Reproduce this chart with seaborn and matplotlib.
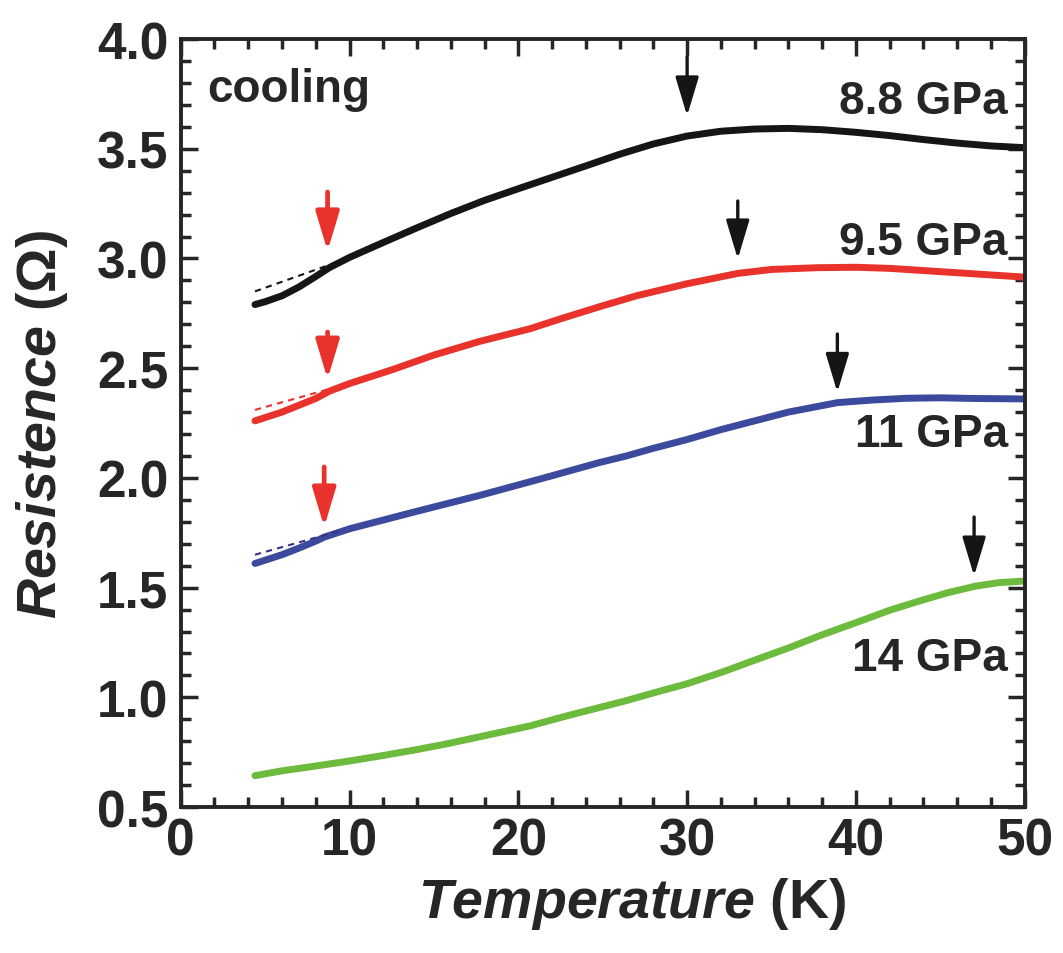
import numpy as np
import pandas as pd
import matplotlib
matplotlib.use("Agg")
import matplotlib.pyplot as plt
import seaborn as sns
from matplotlib.ticker import MultipleLocator

# data (T in K, R in Ohm)
t_88 = [4.4, 5, 6, 7, 8, 8.8, 10, 12, 14, 16, 18, 20, 22, 24, 26, 28, 30, 32, 34, 36, 38, 40, 42, 44, 46, 48, 50]
r_88 = [2.79, 2.803, 2.83, 2.87, 2.918, 2.958, 3.005, 3.073, 3.14, 3.205, 3.265, 3.318, 3.37, 3.422, 3.475, 3.522,
        3.558, 3.58, 3.59, 3.593, 3.587, 3.575, 3.56, 3.542, 3.526, 3.513, 3.505]
t_95 = [4.4, 6, 8, 8.8, 10, 12.6, 15, 17.7, 20.7, 22.5, 24.8, 27, 30, 33, 35, 37.7, 40, 42, 44, 46, 48, 50]
r_95 = [2.26, 2.30, 2.362, 2.395, 2.43, 2.495, 2.56, 2.622, 2.68, 2.725, 2.78, 2.83, 2.885, 2.932, 2.95, 2.958,
        2.96, 2.955, 2.945, 2.935, 2.925, 2.915]
t_11 = [4.4, 6, 7, 8, 8.5, 10, 12, 14, 17.7, 20, 22, 24.8, 26.4, 28, 30, 32, 34, 36, 38.9, 41, 43, 45, 47, 50]
r_11 = [1.61, 1.65, 1.68, 1.712, 1.73, 1.768, 1.808, 1.848, 1.92, 1.968, 2.01, 2.07, 2.10, 2.135, 2.175, 2.22,
        2.26, 2.30, 2.343, 2.355, 2.363, 2.365, 2.362, 2.36]
t_14 = [4.4, 6, 8, 10, 12, 14, 15.7, 18, 20.7, 23, 26.4, 28, 30, 32, 34.1, 36, 38, 40.6, 42, 43.8, 45.5, 47.1, 48.5, 50]
r_14 = [0.643, 0.665, 0.687, 0.71, 0.735, 0.762, 0.787, 0.825, 0.87, 0.918, 0.985, 1.02, 1.062, 1.113, 1.172,
        1.225, 1.285, 1.357, 1.397, 1.44, 1.478, 1.507, 1.523, 1.53]

# dashed linear extrapolations at low T
fit_t = [4.4, 9.5]
fit_88 = [2.85, 2.99]
fit_95 = [2.31, 2.42]
fit_11 = [1.65, 1.76]

labels = ["8.8 GPa", "9.5 GPa", "11 GPa", "14 GPa"]
label_pos = [3.72, 3.075, 2.2, 1.18]
colors = ["#151515", "#e8322b", "#3b4a9c", "#6cbb3c"]
fit_colors = ["#151515", "#e8322b", "#3a2d8c"]

# onset arrows: (T, tail R, tip R, color)
arrows_T = [30.0, 33.0, 38.9, 47.0, 8.7, 8.7, 8.5]
arrows_tail = [3.918, 3.262, 2.656, 1.822, 3.303, 2.665, 2.05]
arrows_tip = [3.65, 2.998, 2.39, 1.553, 3.034, 2.45, 1.776]
arrows_col = ["#151515"] * 4 + ["#e8322b"] * 3
arrows_lw = [2.4] * 4 + [3.4] * 3

sns.set_style("ticks")
plt.rcParams['font.family'] = ['Liberation Sans', 'DejaVu Sans']
plt.rcParams['mathtext.fontset'] = 'custom'
plt.rcParams['mathtext.it'] = 'Liberation Sans:italic:bold'
plt.rcParams['mathtext.rm'] = 'Liberation Sans:bold'
plt.rcParams['mathtext.bf'] = 'Liberation Sans:bold'

fig = plt.figure(figsize=(10.63, 9.54), dpi=100)
ax = fig.add_axes([0.170, 0.153, 0.794, 0.805])

series = [(t_88, r_88), (t_95, r_95), (t_11, r_11), (t_14, r_14)]
for (t, r), c in zip(series, colors):
    df = pd.DataFrame({"T": t, "R": r})
    sns.lineplot(data=df, x="T", y="R", color=c, lw=5, ax=ax, solid_capstyle="round")

for f, c in zip([fit_88, fit_95, fit_11], fit_colors):
    ax.plot(fit_t, f, ls=(0, (3, 2.5)), color=c, lw=1.5)

for T, a, b, c, w in zip(arrows_T, arrows_tail, arrows_tip, arrows_col, arrows_lw):
    ax.annotate("", xy=(T, b), xytext=(T, a),
                arrowprops=dict(arrowstyle="-|>,head_length=1.4,head_width=0.42", color=c, lw=w,
                                shrinkA=0, shrinkB=0, mutation_scale=17))

for lab, y in zip(labels, label_pos):
    ax.text(49.0, y, lab, ha="right", va="center", fontsize=33, fontweight="bold")
ax.text(1.6, 3.718, "cooling", ha="left", va="baseline", fontsize=33, fontweight="bold")

ax.set_xlim(0, 50)
ax.set_ylim(0.5, 4.0)
ax.xaxis.set_major_locator(MultipleLocator(10))
ax.xaxis.set_minor_locator(MultipleLocator(2))
ax.yaxis.set_major_locator(MultipleLocator(0.5))
ax.yaxis.set_minor_locator(MultipleLocator(0.1))
ax.yaxis.set_major_formatter(matplotlib.ticker.FormatStrFormatter("%.1f"))
ax.tick_params(which="both", direction="in", top=True, right=True, width=2.5)
ax.tick_params(which="major", length=12)
ax.tick_params(which="minor", length=7)
ax.tick_params(axis="x", pad=7)
ax.tick_params(axis="y", pad=9)
for lab in ax.get_xticklabels() + ax.get_yticklabels():
    lab.set_fontweight("bold")
    lab.set_fontsize(37)
for s in ax.spines.values():
    s.set_linewidth(2.8)

ax.set_xlabel(r"$\mathit{Temperature}$ (K)", fontsize=40, fontweight="bold")
ax.set_ylabel(r"$\mathit{Resistence}$ (Ω)", fontsize=40, fontweight="bold", labelpad=19)
ax.xaxis.set_label_coords(0.535, -0.088, transform=ax.transAxes)
ax.xaxis.label.set_va("top")

fig.savefig("out.png", dpi=100)
